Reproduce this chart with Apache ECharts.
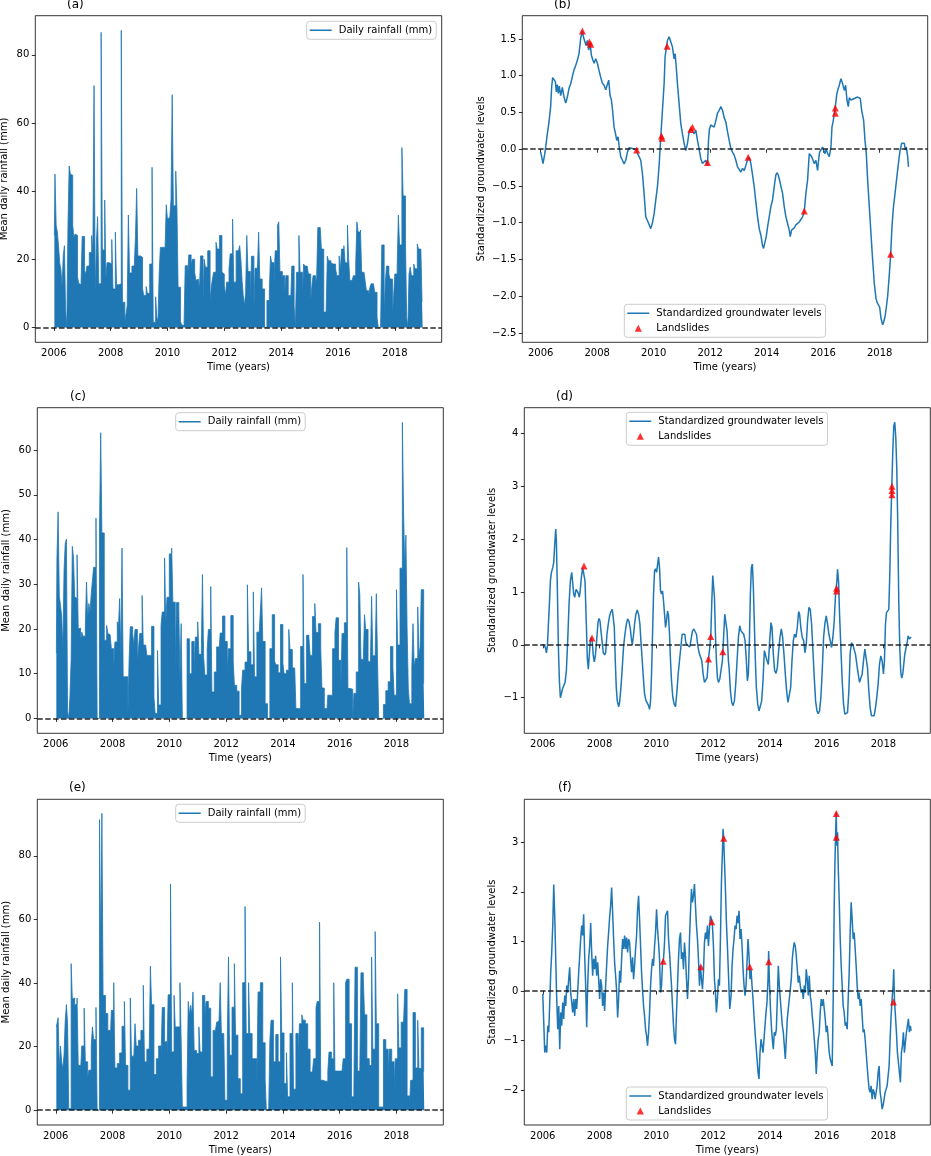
<!DOCTYPE html>
<html><head><meta charset="utf-8">
<script src="https://cdn.jsdelivr.net/npm/echarts/dist/echarts.min.js"></script>
<style>html,body{margin:0;padding:0;background:#fff}#chart{width:931px;height:1156px}</style>
</head><body><div id="chart"></div>
<script>
// ---------- DATA ----------
// Half-month maxima of daily rainfall (mm), one row per year 2006..2018
const rainYears = [2006,2007,2008,2009,2010,2011,2012,2013,2014,2015,2016,2017,2018];
const rainA = [
[27,45,30,28,24,19,17,12,21,24,5,0,30,47.4,45,44.7,30,26.4,27.4,27,15,13,12.5,12],
[26.7,26.7,16.7,15.7,18,18,22,22,27,22,71,10,25,32.5,12.8,12.8,86.6,22.7,22.7,37.4,14.7,19,19,18.6],
[18.6,25.8,11.3,11.3,28,12.5,12.5,12.8,12.8,87.2,7.4,7.4,2,4,6.4,33,16,16,18,18,18.3,26.7,40.8,21],
[21,20.6,20.6,11.3,9.4,9.4,12,10,10,18.6,18.6,47,1.5,1.5,9,3,2,15.7,23.5,23.5,23,23.5,23.5,36],
[31.8,32.3,32.3,37.5,68.3,35.7,35.7,45.9,35,11.8,11.8,1.8,0.8,0.5,0,18.1,18.1,14,21.3,21.3,18,20,20,16.2],
[13.8,14.2,14.2,11.3,21,21,7.4,20,17.7,17.7,22.5,22.5,7.4,11.8,14.2,16.2,16.2,25,23,23,27,27,16.2,15.7],
[12.3,9.4,13.3,13.3,17.2,21.6,21.6,31.8,13.3,13.3,22.5,22.5,22.5,24,20,13.8,9.4,6.4,10,27,16.4,16.4,5.5,20.9],
[20.9,5.5,17.4,17.4,17.4,28,14.2,14.2,11.3,11.3,0,0,7.9,7.9,10.3,21,19,19,13.3,22.5,22.5,30,31,16.4],
[16.4,15.2,15.2,10.1,15.2,15.2,9.4,9.4,6.9,18,18,6.4,0,16.2,16.2,27,16.2,16.2,8.9,18.6,18,18,18.3,15.7],
[15.7,7.9,12.3,15.2,15.2,12.8,14.7,29.3,29.3,28.9,23,23,4.5,4.5,4.5,20.9,19.6,19.6,19,18.6,18.6,18.6,17.2,15.2],
[15.2,21,16.7,23,23,24,19,19,30,20,13.8,13.8,14.2,15.2,15.2,19,31,28,28,28.6,16.2,16.2,16.4,13.5],
[10.8,10.8,9.4,11.8,12.8,12.8,13.3,10.3,10.3,3,0,0,0,24.2,24.2,3.5,13.3,18,18,15.7,14.2,14.2,3.5,9.4],
[15.7,15.7,18,33,24.2,24.2,52.8,38.6,38.6,25.5,3,0,15.7,17.7,15.2,15.2,18.6,17.2,17.2,24.5,23,23,23,7.4]
];
const rainC = [
[14.6,36,46.2,27.3,25.3,22.9,15.4,33,39,40.1,1.5,0,5,13.2,38.5,36,27.2,26.8,36.6,20,20.2,17.3,19.3,18.4],
[18.4,20.6,30.5,22.3,25.7,23.8,27.9,28,33.8,33.8,44.8,0,0,42.9,63.9,41.5,41.5,17.5,17.5,20.8,19,18.7,18.7,15.6],
[15.6,11.2,17.1,17.1,21.6,20.4,26.8,14.1,38.1,9.3,9.3,9.3,9.3,0.7,13,20.5,20.5,19,16.4,19.9,19.9,12.6,16,19],
[19,27.5,16.4,16.4,16,14.1,14.1,14.1,14.1,20.6,20.6,4.8,1.1,1.1,15.2,3,3,20.8,23.8,23.8,35.9,21.3,27.1,27.1],
[36.8,36.8,38.1,26,26,11.2,25.9,25.9,24.2,9.3,21.2,0,0,0,0,17.8,17.8,10,10,17.2,17.2,9.7,18.2,18.2],
[21.6,14.3,14.3,13.8,32.2,13.8,9.7,9.7,15.4,19.9,19.9,29.5,5.9,5.9,10.4,10.4,16,16,14.9,19.1,19.1,22.9,22.9,17.2],
[17.2,10.3,15.6,15.6,23,23,12.8,7.4,7.4,6.1,6.1,0.7,0.7,6.5,10.8,10.8,12.6,12.6,29.9,14.9,14.9,12,12,28.3],
[9.3,9.3,19.3,19.3,19.2,19.2,29.2,17.2,17.2,3.3,3.3,0,0,15.6,15.6,23.2,23.2,12.8,12,12,10.2,10.2,21,21],
[12.4,10,10,10.8,10.8,19.9,15.4,15.4,11.3,11.3,11.2,2.2,2.2,2.2,2.2,16.1,16.1,32.2,7.8,7.8,18.6,18.6,18,14.1],
[14.1,22.8,22.8,25.7,19.2,19.2,21.2,21.2,15.6,6.8,6.8,2.2,2.2,0.7,5.2,5.2,5.2,5.2,15.6,15.6,19.2,22.5,22.5,13],
[13,6.7,19,19,21.4,21.4,38.2,6.7,6.7,6.5,6.5,0,5.6,5.6,10.4,10.4,30.5,27.7,13.2,13.2,13.2,23.2,19.9,19.9],
[12.8,12.6,12.6,27.3,14,14,14,27.9,13,0,0,0,0,3.1,3.1,6.2,6.2,8.2,8.2,16.1,16.1,11.5,5.2,5.2],
[28.8,16.4,16.4,33.6,33.6,66.2,46.5,33.6,41,20,6.7,3.3,3.3,11.5,21.2,11.5,13.4,13.4,24.9,14,16,28.8,28.8,7.8]
];
const rainE = [
[26.2,26.2,29.1,13.1,20.2,15.2,13.1,17.5,28,33.2,27.2,0.5,0.5,46.1,35,35.3,33,33.5,35.3,14.1,14.1,12.6,20.2,20.2],
[32.1,15.2,15.2,10.2,12.6,12.6,20.2,26.2,22.2,22.2,32.3,0,0,91.4,49.2,93.4,36.1,36.1,30.4,30.4,25.1,25.1,20.6,31.4],
[31.4,40.1,13.3,13.3,14.7,14.7,18,18,26.4,26.4,34.2,14.1,14.1,6.3,6.3,35.3,17,17,17,27.2,20.2,20.2,22,22],
[25.1,25.1,39.3,15.2,15.2,19.2,19.2,18.5,45.3,33.2,33.2,11.2,11.2,16.2,16.2,20.2,20.2,16.2,32.3,32.3,21.5,21.5,16.2,36.3],
[36.3,71.2,18.3,18.3,36.1,26.2,26.2,26.2,26.2,40.1,22,1,1,1,1,8.1,34.2,30,33,30,37.2,18.8,18.8,17.8],
[17.8,26.2,18.3,18.3,36.1,36.1,29.8,34.2,34.2,32.1,32.1,10.5,10.5,25.1,25.1,24.6,27.7,28,28,40.1,24.1,24.1,24.1,3.1],
[3.1,22,48.2,17.3,17.3,32.4,32.4,46.1,23.6,23.6,9.9,9.9,5.2,5.2,40.1,40.1,64.1,24.1,24.1,40.1,24.1,24.1,16.2,16.2],
[16.2,16.2,7.1,37.2,37.2,40.1,40.1,21.2,21.2,9.9,0,0,0,22,28.3,28.3,15.2,15.2,23.8,23.8,15.2,15.2,48.2,24.3],
[24.3,8.4,8.4,18.1,4.2,4.2,24.1,24.1,40.1,6.6,6.6,24.1,24.1,16,27.2,27.2,30,28.3,28.3,27.2,27.2,19.2,19.2,12],
[12,12,16.2,16.2,32.3,34.2,34.2,59.2,9.4,9.4,9.1,9.1,9.1,9.1,12.3,18.3,18.3,16.2,16.2,40.1,12.3,12.3,12.3,12.3],
[12.3,12.3,12.3,16.2,16.2,40.1,41.2,41.2,27.2,27.2,4.2,4.2,6.3,45,45,12.3,12.3,12.3,43.2,43.2,41.4,30,30,16.2],
[16.2,14.1,14.1,48.2,19.2,19.2,56.2,27.2,27.2,1,1,1,1,22.2,22.2,19.2,19.2,11.2,19.2,19.2,15.2,15.2,7.3,16.2],
[16.2,36.6,19.6,19.6,27.7,27.7,27.7,38,38,4.5,4.5,0.5,9.4,9.4,30.7,30.7,13.3,13.3,28.3,13.1,13.1,25.9,25.9,12]
];

// Standardized groundwater levels [decimal year, value]
const gwB = [[2006.000,-0.04],[2006.035,-0.10],[2006.083,-0.195],[2006.142,-0.07],[2006.177,0.03],[2006.236,0.21],[2006.295,0.37],[2006.354,0.58],[2006.390,0.85],[2006.425,0.975],[2006.472,0.96],[2006.520,0.92],[2006.555,0.78],[2006.591,0.88],[2006.626,0.76],[2006.661,0.86],[2006.709,0.73],[2006.768,0.84],[2006.827,0.71],[2006.886,0.63],[2006.945,0.71],[2007.004,0.83],[2007.063,0.89],[2007.122,0.99],[2007.181,1.08],[2007.240,1.14],[2007.299,1.21],[2007.358,1.30],[2007.417,1.51],[2007.476,1.61],[2007.512,1.53],[2007.559,1.54],[2007.606,1.41],[2007.653,1.48],[2007.701,1.35],[2007.748,1.45],[2007.795,1.28],[2007.842,1.22],[2007.890,1.17],[2007.949,1.23],[2008.008,1.17],[2008.067,1.07],[2008.126,0.98],[2008.185,0.90],[2008.244,0.87],[2008.303,0.81],[2008.362,0.79],[2008.409,0.94],[2008.457,0.73],[2008.504,0.67],[2008.551,0.51],[2008.598,0.30],[2008.646,0.22],[2008.693,0.12],[2008.740,0.17],[2008.787,0.01],[2008.835,-0.10],[2008.894,-0.15],[2008.953,-0.20],[2009.012,-0.15],[2009.071,-0.04],[2009.130,0.02],[2009.189,0.03],[2009.248,0.01],[2009.307,-0.01],[2009.366,-0.005],[2009.425,0],[2009.484,-0.10],[2009.543,-0.15],[2009.602,-0.33],[2009.661,-0.60],[2009.720,-0.92],[2009.779,-0.97],[2009.838,-0.99],[2009.897,-1.08],[2009.957,-1.00],[2010.016,-0.88],[2010.075,-0.69],[2010.134,-0.51],[2010.193,-0.22],[2010.252,0.17],[2010.311,0.53],[2010.370,0.89],[2010.405,1.26],[2010.453,1.39],[2010.488,1.48],[2010.547,1.53],[2010.606,1.52],[2010.665,1.39],[2010.724,1.23],[2010.760,1.30],[2010.795,1.14],[2010.842,0.89],[2010.901,0.62],[2010.960,0.35],[2011.019,0.21],[2011.079,0.08],[2011.138,-0.02],[2011.197,0.08],[2011.256,0.24],[2011.315,0.28],[2011.374,0.30],[2011.433,0.21],[2011.492,0.26],[2011.551,0.12],[2011.610,0],[2011.669,-0.13],[2011.728,-0.195],[2011.787,-0.20],[2011.846,-0.15],[2011.905,-0.22],[2011.941,0.12],[2011.976,0.28],[2012.023,0.33],[2012.082,0.35],[2012.141,0.30],[2012.200,0.39],[2012.260,0.49],[2012.319,0.53],[2012.378,0.58],[2012.437,0.53],[2012.496,0.43],[2012.555,0.37],[2012.614,0.24],[2012.673,0.12],[2012.732,0.01],[2012.791,-0.04],[2012.850,-0.08],[2012.909,-0.15],[2012.968,-0.24],[2013.027,-0.22],[2013.086,-0.31],[2013.146,-0.26],[2013.205,-0.29],[2013.264,-0.22],[2013.323,-0.14],[2013.382,-0.11],[2013.441,-0.195],[2013.500,-0.35],[2013.559,-0.51],[2013.618,-0.72],[2013.677,-0.92],[2013.736,-1.08],[2013.795,-1.17],[2013.854,-1.31],[2013.890,-1.35],[2013.937,-1.33],[2013.984,-1.19],[2014.031,-1.06],[2014.090,-0.92],[2014.149,-0.78],[2014.208,-0.69],[2014.267,-0.51],[2014.326,-0.35],[2014.362,-0.32],[2014.409,-0.35],[2014.456,-0.42],[2014.504,-0.42],[2014.563,-0.60],[2014.622,-0.78],[2014.681,-0.92],[2014.740,-1.01],[2014.799,-1.10],[2014.834,-1.19],[2014.882,-1.10],[2014.929,-1.12],[2014.976,-1.07],[2015.035,-1.03],[2015.094,-1.01],[2015.153,-0.99],[2015.212,-0.97],[2015.271,-0.92],[2015.330,-0.85],[2015.389,-0.60],[2015.448,-0.42],[2015.508,-0.06],[2015.543,-0.04],[2015.590,-0.10],[2015.637,-0.08],[2015.685,-0.195],[2015.744,-0.15],[2015.803,-0.29],[2015.838,-0.15],[2015.873,-0.04],[2015.921,-0.01],[2015.980,0.03],[2016.015,-0.01],[2016.063,-0.06],[2016.110,0],[2016.157,-0.06],[2016.216,-0.10],[2016.275,0.03],[2016.311,0.30],[2016.358,0.39],[2016.393,0.49],[2016.429,0.58],[2016.476,0.73],[2016.511,0.80],[2016.570,0.87],[2016.629,0.96],[2016.689,0.89],[2016.748,0.80],[2016.795,0.87],[2016.842,0.67],[2016.889,0.58],[2016.925,0.70],[2016.984,0.67],[2017.043,0.67],[2017.102,0.69],[2017.161,0.68],[2017.220,0.71],[2017.279,0.72],[2017.314,0.69],[2017.362,0.53],[2017.397,0.46],[2017.433,0.39],[2017.480,0.12],[2017.527,-0.06],[2017.574,-0.42],[2017.633,-0.78],[2017.692,-1.15],[2017.752,-1.51],[2017.811,-1.83],[2017.870,-2.03],[2017.905,-2.08],[2017.952,-2.06],[2018.000,-2.15],[2018.047,-2.30],[2018.106,-2.39],[2018.141,-2.35],[2018.188,-2.28],[2018.236,-2.15],[2018.283,-2.00],[2018.342,-1.70],[2018.389,-1.43],[2018.436,-1.05],[2018.484,-0.80],[2018.543,-0.60],[2018.602,-0.40],[2018.661,-0.20],[2018.720,-0.02],[2018.779,0.08],[2018.826,0.10],[2018.873,0.08],[2018.909,-0.01],[2018.944,0.03],[2018.991,-0.10],[2019.020,-0.24],[2019.040,-0.24]];
const slideB = [[2007.476,1.61],[2007.724,1.46],[2007.772,1.43],[2009.400,-0.01],[2010.275,0.18],[2010.299,0.15],[2010.476,1.40],[2011.315,0.27],[2011.374,0.30],[2011.905,-0.18],[2013.346,-0.11],[2015.330,-0.84],[2016.429,0.56],[2016.429,0.49],[2018.389,-1.43]];

const gwD = [[2006.000,0.01],[2006.047,0],[2006.094,-0.05],[2006.129,-0.15],[2006.164,-0.02],[2006.199,0.39],[2006.234,0.77],[2006.270,1.21],[2006.305,1.37],[2006.352,1.46],[2006.387,1.56],[2006.422,1.90],[2006.457,2.19],[2006.480,1.97],[2006.516,1.02],[2006.551,-0.05],[2006.586,-0.68],[2006.621,-1.00],[2006.656,-0.93],[2006.691,-0.84],[2006.738,-0.84],[2006.785,-0.71],[2006.832,-0.49],[2006.879,0.08],[2006.926,0.77],[2006.973,1.21],[2007.020,1.37],[2007.055,1.34],[2007.090,0.96],[2007.125,0.90],[2007.172,1.05],[2007.207,1.05],[2007.242,0.99],[2007.289,0.90],[2007.324,1.05],[2007.359,1.27],[2007.406,1.46],[2007.453,1.48],[2007.488,1.21],[2007.535,0.39],[2007.570,-0.25],[2007.605,-0.46],[2007.641,-0.18],[2007.676,0.08],[2007.711,0.14],[2007.746,0.04],[2007.781,-0.21],[2007.816,-0.32],[2007.852,-0.21],[2007.898,0.08],[2007.945,0.42],[2007.980,0.50],[2008.016,0.45],[2008.051,0.26],[2008.086,0.08],[2008.133,-0.15],[2008.180,-0.19],[2008.215,-0.15],[2008.262,0.20],[2008.309,0.40],[2008.355,0.55],[2008.402,0.63],[2008.449,0.67],[2008.484,0.64],[2008.520,0.33],[2008.555,-0.30],[2008.590,-0.81],[2008.625,-1.06],[2008.672,-1.17],[2008.707,-1.09],[2008.754,-0.81],[2008.801,-0.43],[2008.848,-0.02],[2008.895,0.20],[2008.941,0.38],[2008.988,0.49],[2009.035,0.45],[2009.082,0.31],[2009.117,0.14],[2009.152,0],[2009.188,0.14],[2009.234,0.39],[2009.281,0.58],[2009.328,0.66],[2009.375,0.58],[2009.422,0.39],[2009.457,0.08],[2009.504,-0.30],[2009.551,-0.68],[2009.586,-0.93],[2009.633,-1.05],[2009.680,-1.07],[2009.727,-1.15],[2009.762,-1.22],[2009.797,-1.06],[2009.832,-0.55],[2009.867,0.20],[2009.902,0.96],[2009.938,1.40],[2009.973,1.44],[2010.008,1.37],[2010.031,1.46],[2010.078,1.66],[2010.113,1.46],[2010.148,1.02],[2010.184,0.96],[2010.219,1.02],[2010.254,0.83],[2010.289,0.58],[2010.324,0.33],[2010.359,0.45],[2010.395,0.64],[2010.430,0.55],[2010.465,0.20],[2010.500,-0.30],[2010.535,-0.68],[2010.582,-1.00],[2010.629,-1.12],[2010.676,-1.17],[2010.723,-0.90],[2010.770,-0.55],[2010.816,-0.30],[2010.863,-0.05],[2010.910,0.20],[2010.957,0.23],[2011.004,0.20],[2011.039,0.04],[2011.086,0],[2011.133,0],[2011.180,-0.04],[2011.227,-0.04],[2011.273,0.26],[2011.320,0.30],[2011.367,0.33],[2011.414,0.20],[2011.461,-0.02],[2011.508,-0.15],[2011.555,-0.16],[2011.602,-0.30],[2011.648,-0.55],[2011.695,-0.71],[2011.742,-0.74],[2011.789,-0.62],[2011.836,-0.27],[2011.883,-0.05],[2011.918,0.16],[2011.953,0.80],[2011.988,1.31],[2012.012,1.31],[2012.047,0.90],[2012.082,0.20],[2012.117,-0.30],[2012.152,-0.62],[2012.188,-0.71],[2012.234,-0.65],[2012.281,-0.62],[2012.328,-0.30],[2012.375,0.20],[2012.410,0.58],[2012.445,0.61],[2012.492,0.26],[2012.539,-0.30],[2012.563,-0.43],[2012.610,-0.87],[2012.656,-1.09],[2012.703,-1.15],[2012.750,-1.06],[2012.797,-0.74],[2012.844,-0.30],[2012.891,0.14],[2012.938,0.36],[2012.985,0.26],[2013.032,0.26],[2013.078,0.20],[2013.125,0.08],[2013.172,-0.30],[2013.207,-0.68],[2013.242,-0.55],[2013.278,0.08],[2013.313,0.96],[2013.348,1.46],[2013.383,1.53],[2013.418,1.08],[2013.453,0.39],[2013.489,-0.30],[2013.524,-0.81],[2013.571,-1.12],[2013.617,-1.25],[2013.664,-1.22],[2013.711,-1.06],[2013.758,-0.68],[2013.805,-0.11],[2013.852,-0.11],[2013.899,-0.30],[2013.946,-0.37],[2013.993,0.08],[2014.039,0.42],[2014.075,0.33],[2014.121,-0.18],[2014.168,-0.49],[2014.215,-0.54],[2014.262,-0.43],[2014.309,-0.11],[2014.356,0.14],[2014.403,0.30],[2014.450,0.14],[2014.496,-0.18],[2014.543,-0.55],[2014.590,-0.87],[2014.637,-1.09],[2014.684,-1.06],[2014.731,-0.81],[2014.778,-0.30],[2014.825,0.08],[2014.871,0.20],[2014.918,0.14],[2014.965,0.33],[2015.012,0.63],[2015.047,0.58],[2015.094,0.30],[2015.141,0.14],[2015.188,0.08],[2015.235,-0.15],[2015.281,0.01],[2015.328,0.45],[2015.375,0.71],[2015.422,0.67],[2015.469,0.39],[2015.516,-0.11],[2015.563,-0.62],[2015.610,-1.06],[2015.657,-1.25],[2015.703,-1.30],[2015.750,-1.25],[2015.797,-0.99],[2015.844,-0.49],[2015.891,0.14],[2015.938,0.40],[2015.985,0.55],[2016.032,0.39],[2016.078,0.20],[2016.125,0.08],[2016.172,-0.05],[2016.219,0.14],[2016.266,0.45],[2016.313,0.96],[2016.360,1.21],[2016.383,1.43],[2016.418,1.21],[2016.454,0.58],[2016.500,-0.05],[2016.547,-0.68],[2016.594,-1.12],[2016.641,-1.31],[2016.688,-1.32],[2016.735,-1.28],[2016.782,-0.87],[2016.829,-0.15],[2016.875,0.04],[2016.922,0],[2016.969,-0.02],[2017.016,-0.18],[2017.063,-0.37],[2017.110,-0.55],[2017.157,-0.71],[2017.203,-0.74],[2017.250,-0.55],[2017.297,-0.30],[2017.344,-0.08],[2017.391,-0.08],[2017.438,-0.43],[2017.485,-0.87],[2017.532,-1.19],[2017.578,-1.34],[2017.625,-1.37],[2017.672,-1.34],[2017.719,-1.19],[2017.766,-0.99],[2017.813,-0.74],[2017.860,-0.37],[2017.907,-0.21],[2017.953,-0.30],[2018.000,-0.55],[2018.035,-0.30],[2018.071,0.39],[2018.106,0.61],[2018.153,0.64],[2018.188,0.67],[2018.223,1.34],[2018.258,2.28],[2018.293,2.98],[2018.329,3.67],[2018.364,4.14],[2018.399,4.21],[2018.434,3.92],[2018.469,3.35],[2018.504,2.28],[2018.539,0.83],[2018.575,-0.05],[2018.610,-0.52],[2018.645,-0.63],[2018.680,-0.55],[2018.715,-0.37],[2018.750,-0.18],[2018.797,-0.05],[2018.832,0.04],[2018.868,0.17],[2018.914,0.11],[2018.950,0.14],[2018.973,0.15]];
const slideD = [[2007.453,1.49],[2007.734,0.13],[2011.836,-0.27],[2011.918,0.16],[2012.340,-0.13],[2016.348,1.07],[2016.348,1.02],[2018.300,3.00],[2018.300,2.92],[2018.300,2.84]];

const gwF = [[2006.000,-0.06],[2006.035,-0.63],[2006.070,-1.24],[2006.105,-1.10],[2006.141,-1.24],[2006.176,-0.70],[2006.211,-0.83],[2006.246,-0.23],[2006.281,0.38],[2006.316,0.78],[2006.352,1.32],[2006.387,2.15],[2006.422,1.52],[2006.457,0.65],[2006.492,-0.16],[2006.527,-0.77],[2006.563,-0.30],[2006.598,-1.17],[2006.633,-0.43],[2006.668,-0.70],[2006.703,-0.23],[2006.738,-0.56],[2006.773,-0.09],[2006.809,-0.30],[2006.844,0.11],[2006.879,-0.03],[2006.914,0.24],[2006.949,0.48],[2006.984,-0.03],[2007.020,-0.23],[2007.055,-0.43],[2007.090,-0.16],[2007.125,-0.50],[2007.160,-0.16],[2007.195,-0.36],[2007.230,-0.03],[2007.266,0.38],[2007.301,0.71],[2007.336,1.05],[2007.371,1.32],[2007.406,1.12],[2007.441,1.55],[2007.477,0.71],[2007.512,0.11],[2007.547,-0.73],[2007.582,0.11],[2007.617,0.65],[2007.652,0.91],[2007.688,1.37],[2007.723,0.78],[2007.758,0.31],[2007.793,0.65],[2007.828,0.44],[2007.863,0.71],[2007.898,0.31],[2007.934,0.58],[2007.969,0.24],[2008.004,-0.16],[2008.039,0.24],[2008.074,0.11],[2008.109,-0.30],[2008.145,-0.03],[2008.180,-0.40],[2008.215,0.11],[2008.250,0.51],[2008.285,0.91],[2008.320,1.18],[2008.355,1.49],[2008.391,1.72],[2008.426,2.09],[2008.461,1.59],[2008.496,1.05],[2008.531,0.58],[2008.566,0.31],[2008.602,0.01],[2008.637,-0.53],[2008.672,-0.16],[2008.707,0.41],[2008.742,0.17],[2008.777,0.65],[2008.813,1.05],[2008.848,0.85],[2008.883,1.12],[2008.918,0.85],[2008.953,1.08],[2008.988,0.78],[2009.023,1.05],[2009.059,0.98],[2009.094,0.65],[2009.129,0.38],[2009.164,0.68],[2009.199,0.24],[2009.234,0.51],[2009.270,0.85],[2009.305,1.12],[2009.340,1.65],[2009.375,1.92],[2009.410,1.45],[2009.445,0.91],[2009.480,0.38],[2009.516,0.01],[2009.551,-0.30],[2009.586,-0.50],[2009.621,-0.77],[2009.656,-0.90],[2009.691,-1.10],[2009.727,-0.83],[2009.762,-0.43],[2009.797,0.11],[2009.832,0.44],[2009.867,0.65],[2009.902,0.51],[2009.938,0.91],[2009.973,1.18],[2010.008,1.65],[2010.043,1.25],[2010.078,0.98],[2010.113,0.65],[2010.148,-0.03],[2010.184,0.11],[2010.219,0.58],[2010.254,0.65],[2010.289,0.98],[2010.324,1.52],[2010.359,1.55],[2010.395,1.62],[2010.430,1.05],[2010.465,0.78],[2010.500,0.44],[2010.535,0.11],[2010.570,-0.30],[2010.605,-0.70],[2010.641,-0.97],[2010.676,-1.07],[2010.711,-0.43],[2010.746,0.11],[2010.781,0.65],[2010.816,1.05],[2010.852,1.18],[2010.887,0.65],[2010.922,0.78],[2010.957,0.44],[2010.992,0.98],[2011.027,0.71],[2011.063,0.24],[2011.098,-0.16],[2011.133,0.24],[2011.168,1.05],[2011.203,1.59],[2011.238,2.06],[2011.273,1.79],[2011.309,1.92],[2011.344,2.16],[2011.379,1.72],[2011.414,1.32],[2011.449,1.05],[2011.484,0.65],[2011.520,0.11],[2011.555,0.51],[2011.590,0.24],[2011.625,0.04],[2011.660,0.38],[2011.695,0.98],[2011.730,1.18],[2011.766,1.05],[2011.801,1.32],[2011.836,0.91],[2011.871,1.25],[2011.906,1.52],[2011.941,1.45],[2011.977,1.32],[2012.012,0.91],[2012.047,0.24],[2012.082,-0.03],[2012.117,-0.43],[2012.152,-0.16],[2012.188,0.24],[2012.223,0.11],[2012.258,1.05],[2012.293,2.19],[2012.328,2.80],[2012.350,3.27],[2012.370,3.10],[2012.398,2.66],[2012.434,2.06],[2012.469,1.38],[2012.504,0.91],[2012.539,0.38],[2012.586,-0.36],[2012.633,-0.09],[2012.668,0.51],[2012.703,0.85],[2012.738,1.05],[2012.773,1.32],[2012.809,1.25],[2012.844,1.52],[2012.879,1.37],[2012.914,1.62],[2012.949,1.05],[2012.984,1.25],[2013.020,0.91],[2013.055,0.44],[2013.090,0.11],[2013.125,-0.09],[2013.160,0.11],[2013.195,0.58],[2013.230,1.05],[2013.266,0.71],[2013.301,0.24],[2013.336,0.44],[2013.371,0.11],[2013.406,-0.16],[2013.441,-0.50],[2013.477,-0.83],[2013.512,-1.10],[2013.547,-1.37],[2013.582,-1.64],[2013.617,-1.77],[2013.652,-1.24],[2013.688,-0.97],[2013.723,-1.10],[2013.758,-1.24],[2013.793,-0.97],[2013.828,-0.70],[2013.863,-0.43],[2013.898,-0.23],[2013.934,0.24],[2013.957,0.81],[2013.980,0.24],[2014.016,-0.30],[2014.051,-0.70],[2014.086,-0.97],[2014.121,-1.17],[2014.156,-0.83],[2014.191,-0.90],[2014.227,-0.77],[2014.262,-0.16],[2014.297,0.51],[2014.332,0.11],[2014.367,-0.16],[2014.402,-0.43],[2014.438,-0.70],[2014.473,-0.83],[2014.508,-1.10],[2014.543,-1.37],[2014.578,-0.97],[2014.613,-0.56],[2014.648,-0.36],[2014.684,-0.16],[2014.719,0.04],[2014.754,0.24],[2014.789,0.65],[2014.824,0.85],[2014.859,0.98],[2014.895,0.91],[2014.930,0.71],[2014.965,0.44],[2015.000,0.17],[2015.035,0.31],[2015.070,0.11],[2015.105,-0.03],[2015.141,0.04],[2015.176,-0.16],[2015.211,0.11],[2015.246,-0.03],[2015.281,0.44],[2015.316,0.24],[2015.352,-0.09],[2015.387,0.31],[2015.422,-0.09],[2015.457,-0.23],[2015.492,-0.50],[2015.527,-0.70],[2015.563,-0.97],[2015.598,-1.24],[2015.633,-1.67],[2015.668,-1.24],[2015.703,-0.97],[2015.738,-0.83],[2015.773,-0.43],[2015.809,-0.16],[2015.844,-0.30],[2015.879,-0.16],[2015.914,-0.36],[2015.949,-0.56],[2015.984,-0.83],[2016.020,-0.70],[2016.055,-0.97],[2016.090,-1.24],[2016.125,-1.37],[2016.160,-1.44],[2016.195,-1.51],[2016.230,-0.16],[2016.266,1.72],[2016.289,2.53],[2016.313,3.13],[2016.336,3.60],[2016.359,2.93],[2016.383,3.20],[2016.406,2.53],[2016.441,1.85],[2016.477,1.05],[2016.512,0.51],[2016.547,0.11],[2016.582,-0.30],[2016.617,-0.43],[2016.652,-0.70],[2016.688,-0.63],[2016.723,-0.77],[2016.758,-0.16],[2016.793,0.38],[2016.828,1.18],[2016.863,1.79],[2016.898,1.45],[2016.934,1.05],[2016.969,1.18],[2017.004,0.85],[2017.039,0.51],[2017.074,0.11],[2017.109,-0.16],[2017.145,-0.03],[2017.180,-0.30],[2017.215,-0.16],[2017.250,-0.50],[2017.285,-0.83],[2017.320,-0.77],[2017.355,-0.97],[2017.391,-1.24],[2017.426,-1.51],[2017.461,-1.77],[2017.496,-1.98],[2017.531,-2.04],[2017.566,-1.91],[2017.602,-2.18],[2017.637,-1.98],[2017.672,-2.04],[2017.707,-2.18],[2017.742,-2.04],[2017.777,-1.91],[2017.813,-1.64],[2017.848,-1.51],[2017.883,-2.04],[2017.918,-2.18],[2017.953,-2.38],[2017.988,-2.31],[2018.023,-2.18],[2018.059,-2.04],[2018.094,-1.98],[2018.129,-1.91],[2018.164,-1.91],[2018.199,-1.51],[2018.234,-0.97],[2018.270,-0.50],[2018.305,-0.16],[2018.340,0.11],[2018.363,0.44],[2018.387,-0.16],[2018.422,-0.50],[2018.457,-0.83],[2018.492,-1.24],[2018.527,-1.44],[2018.563,-1.64],[2018.598,-1.84],[2018.633,-1.24],[2018.668,-1.10],[2018.703,-0.83],[2018.738,-1.24],[2018.773,-1.03],[2018.809,-0.83],[2018.844,-0.70],[2018.879,-0.56],[2018.914,-0.83],[2018.949,-0.70],[2018.973,-0.80]];
const slideF = [[2010.242,0.60],[2011.567,0.49],[2011.953,1.40],[2012.375,3.08],[2013.290,0.49],[2013.960,0.59],[2016.340,3.58],[2016.340,3.10],[2018.350,-0.22]];

// Tick values
const yearTicks = [2006,2008,2010,2012,2014,2016,2018];
const ticksA = [0,20,40,60,80];
const ticksB = [-2.5,-2,-1.5,-1,-0.5,0,0.5,1,1.5];
const ticksC = [0,10,20,30,40,50,60];
const ticksD = [-1,0,1,2,3,4];
const ticksE = [0,20,40,60,80];
const ticksF = [-2,-1,0,1,2,3];

// ---------- CHART ----------
const FONT = 'DejaVu Sans';
const BLUE = '#1f77b4';
const RAIN = 'Daily rainfall (mm)', GW = 'Standardized groundwater levels', LS = 'Landslides';
// legend icons (bounding box padded to the 22x7 icon cell so nothing is stretched)
const LINE_ICON = 'path://M0,0L0,0ZM22,7L22,7ZM0,2.7L22,2.7L22,4.3L0,4.3Z';
const TRI_ICON = 'path://M0,0L0,0ZM22,7L22,7ZM11,0L14.6,7L7.4,7Z';

function rainPoints(rows){
  const pts = [];
  rows.forEach((row, r) => row.forEach((v, k) => pts.push([rainYears[r] + (k + 0.5) / row.length, v])));
  return pts;
}
const grids = [
  {left:35.3, top:15.7, width:406.4, height:326.6},
  {left:522.3, top:15.7, width:405.4, height:326.6},
  {left:37.3, top:407.7, width:406, height:325.6},
  {left:524.3, top:407.7, width:406, height:325.6},
  {left:37.3, top:799.3, width:406, height:325.7},
  {left:524.3, top:799.3, width:406, height:325.7}
].map(g => Object.assign(g, {show:true, borderColor:'#000', borderWidth:0.8, backgroundColor:'transparent', containLabel:false, outerBoundsMode:'none'}));

const xr = [[2005.35,2019.65],[2005.35,2019.70],[2005.35,2019.65],[2005.35,2019.65],[2005.35,2019.65],[2005.35,2019.65]];
const xAxes = xr.map((r,i) => ({
  type:'value', gridIndex:i, min:r[0], max:r[1],
  name:'Time (years)', nameLocation:'middle', nameGap:20,
  nameTextStyle:{fontFamily:FONT, fontSize:10, color:'#000'},
  axisLine:{show:false}, splitLine:{show:false},
  axisTick:{show:true, customValues:yearTicks, length:3.5, lineStyle:{color:'#000', width:0.8}},
  axisLabel:{customValues:yearTicks, fontFamily:FONT, fontSize:10, color:'#000', margin:6, formatter:v=>String(v)}
}));
const minus = s => s.replace('-', '\u2212');
const yDefs = [
  {min:-4.36, max:91.5, ticks:ticksA, name:'Mean daily rainfall (mm)', gap:26, fmt:v=>String(v)},
  {min:-2.627, max:1.817, ticks:ticksB, name:GW, gap:36, fmt:v=>minus(v.toFixed(1))},
  {min:-3.33, max:69.5, ticks:ticksC, name:'Mean daily rainfall (mm)', gap:26, fmt:v=>String(v)},
  {min:-1.673, max:4.485, ticks:ticksD, name:GW, gap:27, fmt:v=>minus(String(v))},
  {min:-4.66, max:97.8, ticks:ticksE, name:'Mean daily rainfall (mm)', gap:26, fmt:v=>String(v)},
  {min:-2.70, max:3.867, ticks:ticksF, name:GW, gap:27, fmt:v=>minus(String(v))}
];
const yAxes = yDefs.map((d,i) => ({
  type:'value', gridIndex:i, min:d.min, max:d.max,
  name:d.name, nameLocation:'middle', nameRotate:90, nameGap:d.gap,
  nameTextStyle:{fontFamily:FONT, fontSize:10, color:'#000'},
  axisLine:{show:false}, splitLine:{show:false},
  axisTick:{show:true, customValues:d.ticks, length:3.5, lineStyle:{color:'#000', width:0.8}},
  axisLabel:{customValues:d.ticks, fontFamily:FONT, fontSize:10, color:'#000', margin:6, formatter:d.fmt}
}));

const zeroLine = {silent:true, symbol:'none', label:{show:false}, animation:false,
  lineStyle:{color:'#111', type:[5.5,2.4], width:1.5, opacity:0.9}, data:[{yAxis:0}]};

function rainSeries(rows, i){
  return {name:RAIN, type:'line', step:'middle', xAxisIndex:i, yAxisIndex:i, data:rainPoints(rows),
    symbol:'none', showSymbol:false, color:BLUE, lineStyle:{color:BLUE, width:0.8},
    areaStyle:{color:BLUE, opacity:1}, markLine:zeroLine, z:2};
}
function gwSeries(pts, i){
  return {name:GW, type:'line', xAxisIndex:i, yAxisIndex:i, data:pts, symbol:'none', showSymbol:false,
    color:BLUE, lineStyle:{color:BLUE, width:1.5}, markLine:zeroLine, z:2};
}
function slideSeries(pts, i){
  return {name:LS, type:'scatter', xAxisIndex:i, yAxisIndex:i, data:pts, symbol:'triangle', symbolSize:7,
    itemStyle:{color:'#ff0000'}, z:5};
}
const series = [
  rainSeries(rainA,0), gwSeries(gwB,1), slideSeries(slideB,1),
  rainSeries(rainC,2), gwSeries(gwD,3), slideSeries(slideD,3),
  rainSeries(rainE,4), gwSeries(gwF,5), slideSeries(slideF,5)
];

const legendBase = {selectedMode:false, orient:'vertical', itemWidth:22, itemHeight:7, itemGap:3,
  padding:[3,4,3,3], borderColor:'#cccccc', borderWidth:1, borderRadius:3, backgroundColor:'rgba(255,255,255,0.8)',
  textStyle:{fontFamily:FONT, fontSize:10, color:'#000', lineHeight:12, padding:[0,0,0,2]}};
const rainItem = {name:RAIN, icon:LINE_ICON, itemStyle:{color:BLUE}};
const gwItem = {name:GW, icon:LINE_ICON, itemStyle:{color:BLUE}};
const lsItem = {name:LS, icon:TRI_ICON, itemStyle:{color:'#ff0000'}};
const legends = [
  {left:306.7, top:21.3, data:[rainItem]},
  {left:624.3, top:304.3, data:[gwItem, lsItem]},
  {left:175.7, top:412.7, data:[rainItem]},
  {left:626.3, top:412.3, data:[gwItem, lsItem]},
  {left:175.7, top:804.3, data:[rainItem]},
  {left:626.3, top:1087, data:[gwItem, lsItem]}
].map(l => Object.assign({}, legendBase, l));

const titleStyle = {fontFamily:FONT, fontSize:12, fontWeight:'normal', color:'#000'};
const titles = [
  ['(a)',67,-1],['(b)',554,-1],['(c)',70,390.5],['(d)',556,390.5],['(e)',69,782],['(f)',558,782]
].map(t => ({text:t[0], left:t[1], top:t[2], padding:0, textStyle:titleStyle}));

const chart = echarts.init(document.getElementById('chart'), null, {renderer:'canvas'});
chart.setOption({
  animation:false, backgroundColor:'#fff',
  textStyle:{fontFamily:FONT},
  title:titles, legend:legends, grid:grids, xAxis:xAxes, yAxis:yAxes, series:series
});
</script></body></html>
